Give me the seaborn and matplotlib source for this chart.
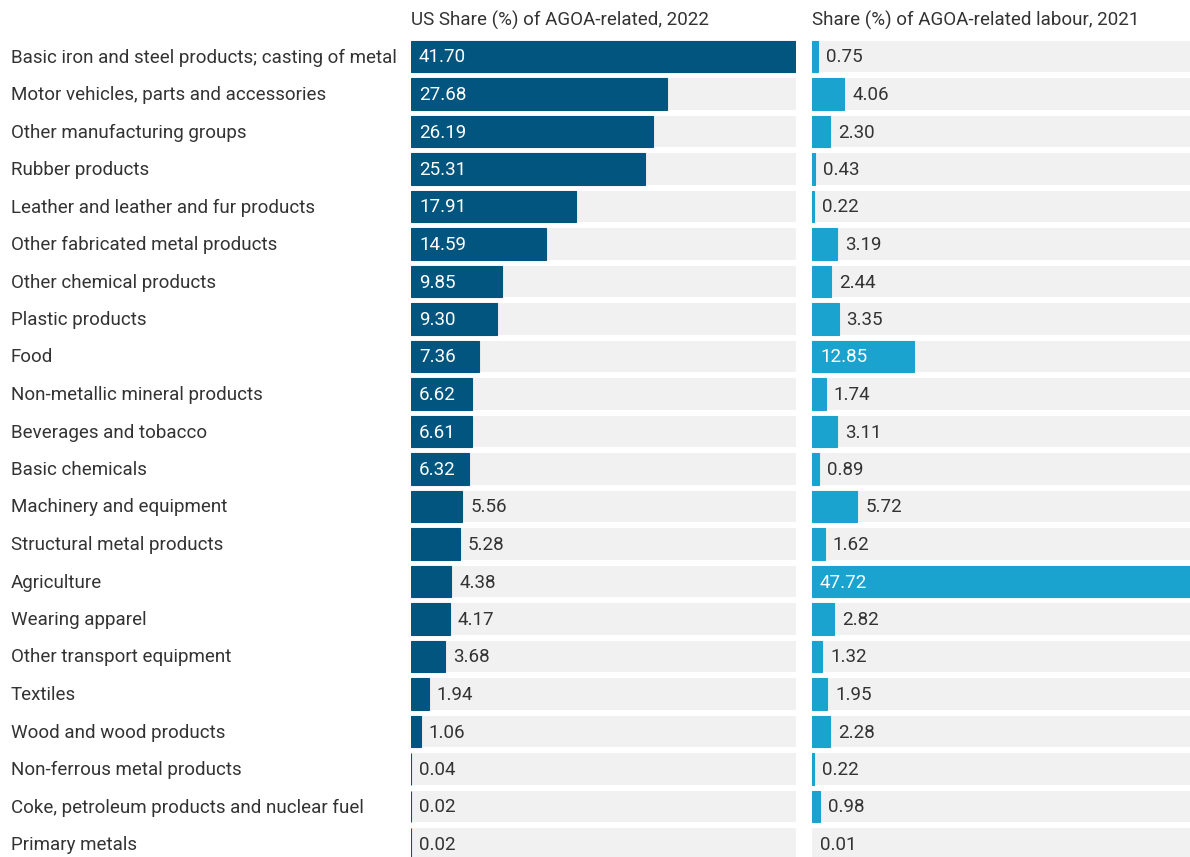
import matplotlib
matplotlib.use("Agg")
import matplotlib.pyplot as plt
import matplotlib.transforms as mtransforms
import seaborn as sns
import pandas as pd

categories = [
    "Basic iron and steel products; casting of metal",
    "Motor vehicles, parts and accessories",
    "Other manufacturing groups",
    "Rubber products",
    "Leather and leather and fur products",
    "Other fabricated metal products",
    "Other chemical products",
    "Plastic products",
    "Food",
    "Non-metallic mineral products",
    "Beverages and tobacco",
    "Basic chemicals",
    "Machinery and equipment",
    "Structural metal products",
    "Agriculture",
    "Wearing apparel",
    "Other transport equipment",
    "Textiles",
    "Wood and wood products",
    "Non-ferrous metal products",
    "Coke, petroleum products and nuclear fuel",
    "Primary metals",
]
us_share = [41.70, 27.68, 26.19, 25.31, 17.91, 14.59, 9.85, 9.30, 7.36, 6.62, 6.61,
            6.32, 5.56, 5.28, 4.38, 4.17, 3.68, 1.94, 1.06, 0.04, 0.02, 0.02]
labour_share = [0.75, 4.06, 2.30, 0.43, 0.22, 3.19, 2.44, 3.35, 12.85, 1.74, 3.11,
                0.89, 5.72, 1.62, 47.72, 2.82, 1.32, 1.95, 2.28, 0.22, 0.98, 0.01]
titles = ["US Share (%) of AGOA-related, 2022", "Share (%) of AGOA-related labour, 2021"]

sns.set_theme(style="white")
plt.rcParams["font.family"] = ["Roboto", "DejaVu Sans"]

W, H = 1190, 857
fig = plt.figure(figsize=(W / 100, H / 100), dpi=100)

pitch = 37.5
top_px = 56.5 - pitch / 2
ax_h = (H - top_px) / H
ylim_bottom = -0.5 + (H - top_px) / pitch
dy = 1.0 / pitch  # nudge text ~1px down

panels = [
    (411, 796, us_share, "#02557e"),
    (812, 1190, labour_share, "#1aa3cf"),
]
text_dark = "#333333"
FS = 13.5

axes = []
for (x0, x1, vals, color), title in zip(panels, titles):
    ax = fig.add_axes([x0 / W, 0, (x1 - x0) / W, ax_h])
    df = pd.DataFrame({"cat": categories, "val": vals})
    vmax = max(vals)
    df["bg"] = vmax
    sns.barplot(data=df, y="cat", x="bg", orient="h", color="#f1f1f1",
                width=0.827, ax=ax, saturation=1, linewidth=0)
    n_bg = len(ax.patches)
    sns.barplot(data=df, y="cat", x="val", orient="h", color=color,
                width=0.827, ax=ax, saturation=1, linewidth=0)
    px_per_unit = (x1 - x0) / vmax
    for p in ax.patches[n_bg:]:
        if p.get_width() * px_per_unit >= 0.12:
            p.set_edgecolor(color)
            p.set_linewidth(0.8)
    ax.set_xlim(0, vmax)
    ax.set_ylim(ylim_bottom, -0.5)
    ax.set_axis_off()
    for i, v in enumerate(vals):
        bw = v * px_per_unit
        if bw > 55:
            ax.text(8 / px_per_unit, i + dy, f"{v:.2f}", color="white", va="center",
                    ha="left", fontsize=FS)
        else:
            ax.text(v + 8 / px_per_unit, i + dy, f"{v:.2f}", color=text_dark,
                    va="center", ha="left", fontsize=FS)
    fig.text(x0 / W, 1 - 20 / H, title, ha="left", va="center", fontsize=FS,
             color=text_dark)
    axes.append(ax)

trans = mtransforms.blended_transform_factory(fig.transFigure, axes[0].transData)
for i, c in enumerate(categories):
    axes[0].text(11 / W, i + dy, c, transform=trans, ha="left", va="center",
                 fontsize=FS, color=text_dark, clip_on=False)

fig.savefig("out.png", dpi=100, facecolor="white")
